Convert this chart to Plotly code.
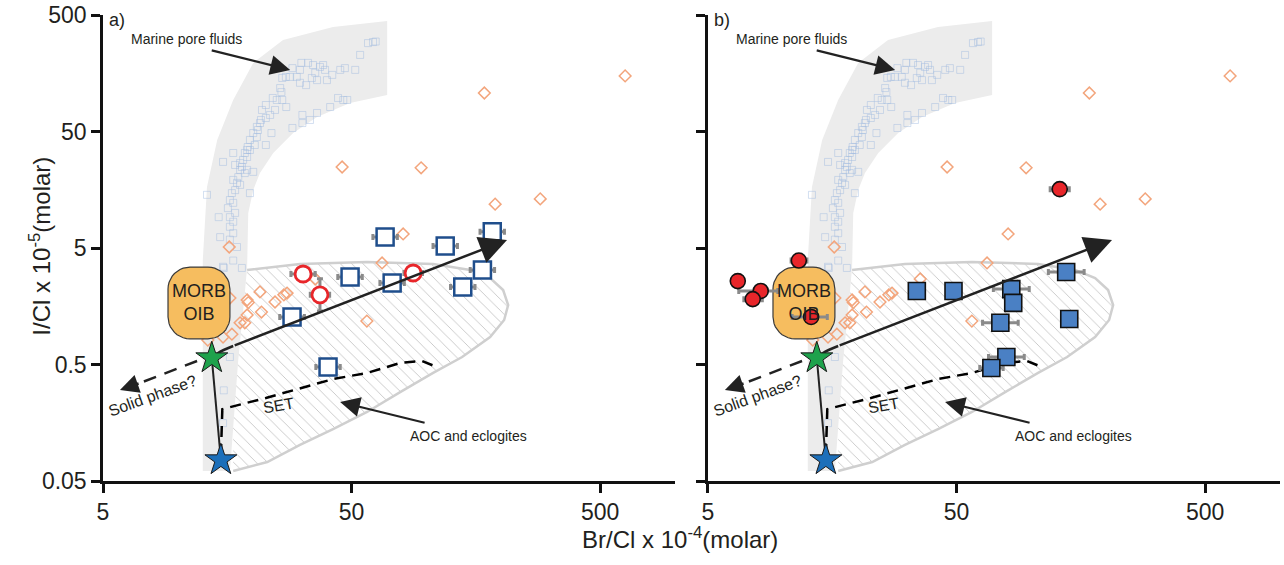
import math
import plotly.graph_objects as go

# ---------------- data ----------------
x_tick_vals = [5, 50, 500]
x_tick_text = ["5", "50", "500"]
y_tick_vals = [0.05, 0.5, 5, 50, 500]
y_tick_text = ["0.05", "0.5", "5", "50", "500"]

# marine pore fluids (Br/Cl, I/Cl)
pore_br = [61.0, 58.2, 54.1, 38.4, 37.3, 35.0, 33.4, 31.4, 28.9, 27.2, 26.3, 28.3, 45.0, 41.8, 39.8,
           36.3, 34.6, 32.8, 31.0, 30.1, 44.1, 46.3, 48.0, 41.0, 36.3, 34.0, 31.7, 28.9, 31.7, 25.8,
           26.1, 26.3, 27.3, 25.0, 24.1, 22.6, 21.8, 23.5, 22.6, 21.4, 20.8, 21.0, 20.1, 20.8, 19.5,
           19.1, 19.0, 18.6, 19.0, 18.3, 17.8, 18.1, 19.0, 18.6, 17.5, 16.7, 17.3, 17.8, 17.0, 16.5,
           16.2, 16.7, 15.9, 17.0, 16.2, 16.7, 16.2, 16.7, 16.2, 17.3, 16.7, 15.2, 16.7, 20.1, 22.6,
           23.8, 13.1, 14.6, 14.8, 19.5, 15.3, 18.1, 15.2, 15.3, 15.2, 16.2, 17.8, 17.0, 19.5, 20.4,
           21.6, 24.6, 31.0, 35.7, 39.1, 47.0, 51.7, 62.5]
pore_i = [293, 287, 227, 186, 179, 186, 194, 194, 175, 147, 144, 147, 169, 153, 138,
          138, 144, 125, 131, 147, 97.0, 93.2, 93.2, 81.1, 72.1, 62.8, 69.3, 53.6, 59.1, 118,
          109, 93.2, 81.1, 93.2, 97.0, 84.4, 76.5, 69.3, 65.3, 59.1, 54.7, 51.5, 48.5, 44.8, 42.3,
          36.8, 34.7, 32.7, 30.2, 28.5, 26.8, 24.8, 23.4, 22.0, 20.3, 19.2, 18.1, 17.4, 15.7, 14.8,
          12.9, 12.2, 11.0, 10.0, 9.2, 8.4, 7.6, 6.7, 5.9, 5.1, 3.9, 27.4, 32.7, 22.5, 38.3,
          48.5, 14.3, 9.2, 6.2, 14.8, 3.37, 3.37, 3.45, 0.30, 0.157, 0.58, 23.4, 25.8, 34.7, 38.3,
          62.8, 76.5, 169, 160, 169, 175, 169, 296]

# literature compilation (orange diamonds)
lit_br = [630, 171, 45.8, 95.2, 189, 287, 80.6, 16.1, 66.3, 35.7, 57.6, 16.2, 19.0, 21.4, 24.6,
          26.7, 21.7, 19.0, 17.8, 16.5, 15.2, 13.2, 18.6, 19.2, 27.5]
lit_i = [150, 107, 24.8, 24.4, 11.9, 13.2, 6.6, 5.1, 3.72, 2.71, 1.18, 1.86, 1.79, 2.10, 1.72,
         1.98, 1.41, 1.33, 1.14, 0.91, 0.86, 0.81, 1.14, 1.70, 2.05]

# panel a: open squares and open circles
a_sq_br = [68.2, 119, 184, 49.3, 72.8, 168, 140, 28.8, 40.2]
a_sq_i = [6.2, 5.2, 6.9, 2.82, 2.50, 3.24, 2.31, 1.28, 0.476]
a_sq_ep = [8.2, 14.3, 22, 5.9, 8.7, 20, 16.8, 3.5, 4.8]
a_sq_em = [7.3, 12.7, 19.7, 5.3, 7.8, 18, 15, 3.1, 4.3]
a_ci_br = [31.9, 37.3, 88.4]
a_ci_i = [2.99, 1.98, 3.05]
a_ci_ep = [3.8, 3.5, 8.0]
a_ci_em = [3.4, 3.2, 7.2]
a_ci_eyp = [0, 0.74, 0]
a_ci_eym = [0, 0.54, 0]

# panel b: filled squares and filled circles
b_sq_br = [34.6, 48.6, 83.0, 138, 84.5, 75.0, 142, 79.3, 69.0]
b_sq_i = [2.14, 2.14, 2.22, 3.11, 1.69, 1.14, 1.23, 0.58, 0.467]
b_sq_ep = [0, 0, 15, 25, 0, 13.5, 0, 14.3, 8]
b_sq_em = [0, 0, 12.7, 21, 0, 11.4, 0, 12.1, 7]
b_ci_br = [6.59, 8.15, 7.57, 11.6, 13.0, 130]
b_ci_i = [2.60, 2.14, 1.82, 3.9, 1.28, 16.0]
b_ci_ep = [0, 1.4, 0.7, 0.9, 2.1, 12]
b_ci_em = [0, 1.5, 0.6, 0.8, 2.1, 11]

# end members (stars)
green_star = (13.7, 0.568)
blue_star = (14.9, 0.0757)

# marine pore fluid field (grey band)
band_br = [12.6, 12.6, 13.1, 14.4, 16.7, 20.1, 26.5, 42.1, 69.5,
           69.5, 49.3, 36.3, 29.1, 24.2, 21.4, 20.1, 19.2, 19.0, 18.6, 17.5, 16.7, 16.2]
band_i = [0.061, 3.94, 16.7, 42.3, 93.2, 194, 305, 394, 444,
          103, 87.9, 66.6, 48.5, 32.7, 22.0, 15.7, 10.0, 3.43, 2.05, 0.55, 0.145, 0.061]

# AOC and eclogites field (outline, top -> right -> bottom)
aoc_br = [19.0, 31.0, 57.7, 106.4, 150, 180.4, 203.5, 213.2, 205.4, 180.4, 139.2, 106.4, 78.4,
          57.7, 42.1, 31.0, 22.9, 16.7]
aoc_i = [3.24, 3.65, 3.79, 3.65, 3.24, 2.76, 2.18, 1.62, 1.205, 0.861, 0.58, 0.423, 0.290,
         0.1956, 0.1397, 0.1019, 0.0728, 0.061]
aoc_left_br = [16.7, 17.5, 18.6, 19.0]
aoc_left_i = [0.145, 0.55, 2.05, 3.24]

# SET path
set_br = [14.9, 15.1, 22.6, 31.0, 42.1, 57.7, 78.4, 96.1, 110]
set_i = [0.0836, 0.207, 0.258, 0.314, 0.375, 0.423, 0.515, 0.536, 0.476]

# mixing trend from green star, then arrow
mix_br = [13.7, 14.5, 16.7]
mix_i = [0.568, 0.628, 0.721]
mix_tip = (211, 5.86)

# solid phase trend
solid_br = [11.95, 7.05]
solid_i = [0.536, 0.347]
solid_tip = (5.85, 0.302)

# MORB / OIB field
morb_br = [9.13, 16.2]
morb_i = [0.83, 3.43]

# label arrows (tail, tip)
pore_arrow = ((13.5, 250), (28.3, 169))
aoc_arrow = ((99.7, 0.157), (44.95, 0.238))

# ---------------- figure ----------------
L = math.log10
X_RANGE = [L(5), 3.0]
Y_RANGE = [L(0.05), L(500)]
W, H = 1284, 565
M = dict(l=103, r=4, t=15, b=84)
DOM_A = [0, 0.486]
DOM_B = [0.514, 1.0]
plot_w = (W - M["l"] - M["r"]) * (DOM_A[1] - DOM_A[0])
plot_h = H - M["t"] - M["b"]
px_dec_x = plot_w / (X_RANGE[1] - X_RANGE[0])
px_dec_y = plot_h / (Y_RANGE[1] - Y_RANGE[0])

FONT = "Liberation Sans, Arial, sans-serif"
fig = go.Figure()


def rounded_box(xr, yr, rad_px=22, n=10):
    x0, x1 = L(xr[0]), L(xr[1])
    y0, y1 = L(yr[0]), L(yr[1])
    rx, ry = rad_px / px_dec_x, rad_px / px_dec_y
    corners = [(x1 - rx, y1 - ry, 0), (x0 + rx, y1 - ry, 90),
               (x0 + rx, y0 + ry, 180), (x1 - rx, y0 + ry, 270)]
    xs, ys = [], []
    for cx, cy, a0 in corners:
        for k in range(n + 1):
            a = math.radians(a0 + 90 * k / n)
            xs.append(10 ** (cx + rx * math.cos(a)))
            ys.append(10 ** (cy + ry * math.sin(a)))
    xs.append(xs[0]); ys.append(ys[0])
    return xs, ys


def add_panel(xr, yr, filled):
    common = dict(xaxis=xr, yaxis=yr, hoverinfo="skip", showlegend=False)
    # grey band
    fig.add_trace(go.Scatter(x=band_br, y=band_i, mode="lines", fill="toself",
                             fillcolor="#ececec", line=dict(width=0), **common))
    # hatched AOC field
    hx = aoc_br + aoc_left_br
    hy = aoc_i + aoc_left_i
    fig.add_trace(go.Scatter(x=hx, y=hy, mode="lines", fill="toself",
                             fillcolor="rgba(255,255,255,0)",
                             fillpattern=dict(shape="\\", fgcolor="#8c8c8c",
                                              bgcolor="rgba(255,255,255,0)",
                                              size=8, solidity=0.11),
                             line=dict(width=0), **common))
    fig.add_trace(go.Scatter(x=aoc_br, y=aoc_i, mode="lines",
                             line=dict(color="#cfcfcf", width=2.5), **common))
    # pore fluids
    fig.add_trace(go.Scatter(x=pore_br, y=pore_i, mode="markers",
                             marker=dict(symbol="square-open", size=7, color="#9fbbe0",
                                         opacity=0.45, line=dict(width=1)), **common))
    # literature
    fig.add_trace(go.Scatter(x=lit_br, y=lit_i, mode="markers",
                             marker=dict(symbol="diamond-open", size=9, color="#f3a57c",
                                         line=dict(width=1.5)), **common))
    # SET dashed line
    fig.add_trace(go.Scatter(x=set_br, y=set_i, mode="lines",
                             line=dict(color="black", width=2.5, dash="11px,7px"), **common))
    # solid phase dashed
    fig.add_trace(go.Scatter(x=solid_br, y=solid_i, mode="lines",
                             line=dict(color="#222", width=2.5, dash="13px,9px"), **common))
    # mixing trend start
    fig.add_trace(go.Scatter(x=mix_br, y=mix_i, mode="lines",
                             line=dict(color="#222", width=2.5, shape="spline"), **common))
    # star-to-star line
    fig.add_trace(go.Scatter(x=[blue_star[0], green_star[0]], y=[blue_star[1], green_star[1]],
                             mode="lines", line=dict(color="#222", width=2), **common))
    # MORB box
    bx, by = rounded_box(morb_br, morb_i)
    fig.add_trace(go.Scatter(x=bx, y=by, mode="lines", fill="toself", fillcolor="#f6bd5f",
                             line=dict(color="#3a3a3a", width=1.2), **common))
    err_style = dict(type="data", color="#8a8a8a", thickness=3, width=3, symmetric=False)
    if not filled:
        fig.add_trace(go.Scatter(x=a_sq_br, y=a_sq_i, mode="markers",
                                 error_x=dict(array=a_sq_ep, arrayminus=a_sq_em, **err_style),
                                 marker=dict(symbol="square", size=17, color="white",
                                             line=dict(color="#1f4e8c", width=2.5)), **common))
        fig.add_trace(go.Scatter(x=a_ci_br, y=a_ci_i, mode="markers",
                                 error_x=dict(array=a_ci_ep, arrayminus=a_ci_em, **err_style),
                                 error_y=dict(array=a_ci_eyp, arrayminus=a_ci_eym, **err_style),
                                 marker=dict(symbol="circle", size=16, color="white",
                                             line=dict(color="#e8262a", width=2.8)), **common))
    else:
        fig.add_trace(go.Scatter(x=b_sq_br, y=b_sq_i, mode="markers",
                                 error_x=dict(array=b_sq_ep, arrayminus=b_sq_em, **err_style),
                                 marker=dict(symbol="square", size=17, color="#4a80c4",
                                             line=dict(color="#111", width=1.6)), **common))
        fig.add_trace(go.Scatter(x=b_ci_br, y=b_ci_i, mode="markers",
                                 error_x=dict(array=b_ci_ep, arrayminus=b_ci_em, **err_style),
                                 marker=dict(symbol="circle", size=15, color="#e8262a",
                                             line=dict(color="#111", width=1.6)), **common))
    # stars
    fig.add_trace(go.Scatter(x=[green_star[0], blue_star[0]], y=[green_star[1], blue_star[1]],
                             mode="markers",
                             marker=dict(symbol="star", size=24, color=["#1ea24c", "#1c6fba"],
                                         line=dict(color="#1a1a1a", width=1)), **common))

    def arrow(tail, tip, width=2.5, size=1.6, head=2):
        fig.add_annotation(x=L(tip[0]), y=L(tip[1]), ax=L(tail[0]), ay=L(tail[1]),
                           xref=xr, yref=yr, axref=xr, ayref=yr, text="", showarrow=True,
                           arrowhead=head, arrowsize=size, arrowwidth=width, arrowcolor="#222")

    def text(x, y, s, size, angle=0):
        fig.add_annotation(x=L(x), y=L(y), xref=xr, yref=yr, text=s, showarrow=False,
                           textangle=angle, font=dict(family=FONT, size=size, color="#231f20"))

    arrow((mix_br[-1], mix_i[-1]), mix_tip, width=2.5, size=2.2)
    arrow((solid_br[-1], solid_i[-1]), solid_tip, width=2.5, size=1.5)
    arrow(pore_arrow[0], pore_arrow[1], width=2.2, size=1.8)
    arrow(aoc_arrow[0], aoc_arrow[1], width=2.2, size=1.8)
    text(10 ** 1.033, 10 ** 2.493, "Marine pore fluids", 14)
    text(10 ** 2.168, 10 ** -0.915, "AOC and eclogites", 14)
    text(10 ** 0.90, 10 ** -0.563, "Solid phase?", 16, -20)
    text(10 ** 1.405, 10 ** -0.649, "SET", 16, -10)
    text(10 ** ((L(morb_br[0]) + L(morb_br[1])) / 2), 10 ** ((L(morb_i[0]) + L(morb_i[1])) / 2),
         "MORB<br>OIB", 18)
    text(10 ** 0.755, 10 ** 2.652, "a)" if not filled else "b)", 18)


add_panel("x", "y", False)
add_panel("x2", "y2", True)

axis_common = dict(type="log", showgrid=False, zeroline=False, showline=True, linecolor="#111",
                   linewidth=2.5, ticks="outside", ticklen=9, tickwidth=2.5, tickcolor="#111",
                   automargin=False, ticklabeloverflow="allow",
                   tickfont=dict(family=FONT, size=23, color="#231f20"))
fig.update_layout(
    width=W, height=H, margin=dict(autoexpand=False, **M), plot_bgcolor="white",
    paper_bgcolor="white", showlegend=False,
    xaxis=dict(domain=DOM_A, range=X_RANGE, tickvals=x_tick_vals, ticktext=x_tick_text,
               anchor="y", **axis_common),
    xaxis2=dict(domain=DOM_B, range=X_RANGE, tickvals=x_tick_vals, ticktext=x_tick_text,
                anchor="y2", **axis_common),
    yaxis=dict(domain=[0, 1], range=Y_RANGE, tickvals=y_tick_vals, ticktext=y_tick_text,
               anchor="x", **axis_common),
    yaxis2=dict(domain=[0, 1], range=Y_RANGE, tickvals=y_tick_vals, ticktext=y_tick_text,
                anchor="x2", showticklabels=False, **axis_common),
)
fig.add_annotation(xref="paper", yref="paper", x=0.49, y=-0.158, showarrow=False,
                   text="Br/Cl x 10<sup>-4</sup>(molar)",
                   font=dict(family=FONT, size=24, color="#231f20"))
fig.add_annotation(xref="paper", yref="paper", x=-0.068, y=0.505, showarrow=False, textangle=-90,
                   text="I/Cl x 10<sup>-5</sup>(molar)",
                   font=dict(family=FONT, size=24, color="#231f20"))

# remove the browser's default page margin so the figure fills the window exactly
fig.write_html("out.html", config={"displayModeBar": False},
               post_script="document.body.style.margin='0';document.body.style.overflow='hidden';")
